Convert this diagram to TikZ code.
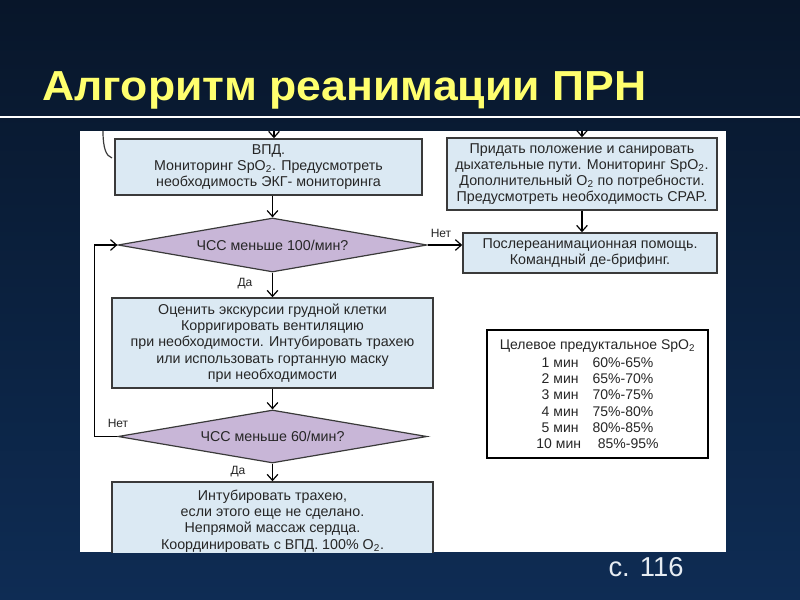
\documentclass[tikz,border=0pt]{standalone}
\usepackage{fontspec}
\setmainfont{Liberation Sans}
\newfontfamily\titlefont[FakeStretch=1.06]{Liberation Sans}
\usetikzlibrary{shapes.geometric,arrows.meta}

\definecolor{slidetop}{RGB}{8,22,42}
\definecolor{slidebottom}{RGB}{14,44,84}
\definecolor{titleyellow}{RGB}{255,255,110}
\definecolor{boxblue}{RGB}{219,233,243}
\definecolor{decisionlilac}{RGB}{200,182,215}
\definecolor{framegray}{RGB}{58,58,58}
\definecolor{inkgray}{RGB}{38,38,38}
\definecolor{pagenum}{RGB}{230,236,242}

\tikzset{every picture/.style={line width=0.75pt},
  actionbox/.style={draw=framegray, line width=1.1pt, fill=boxblue, text=inkgray, align=center, inner sep=0pt, font=\fontsize{10.7pt}{12.2pt}\selectfont},
  decision/.style={diamond, aspect=5.7, draw=framegray, line width=0.9pt, fill=decisionlilac, text=inkgray, inner sep=0pt, font=\fontsize{10.7pt}{12pt}\selectfont},
  flowarrow/.style={-{Straight Barb[length=4.5pt,width=8pt]}, line width=0.9pt, black},
  branchlabel/.style={text=inkgray, inner sep=0pt, font=\fontsize{9pt}{10pt}\selectfont}
}

\begin{document}
\begin{tikzpicture}[x=0.75pt,y=0.75pt,yscale=-1,xscale=1]
\useasboundingbox (0,0) rectangle (800,600);

%Slide background
\shade [top color=slidetop, bottom color=slidebottom] (0,0) rectangle (800,600);
%Straight Lines 
\draw [white, line width=1.2pt] (0,117) -- (800,117);
% Text Node
\node [anchor=base west, inner sep=0pt, text=titleyellow, font=\titlefont\fontsize{31.5pt}{36pt}\selectfont\bfseries] (title) at (42,100) {Алгоритм реанимации ПРН};
% Text Node
\node [anchor=base west, inner sep=0pt, text=pagenum, font=\fontsize{20.5pt}{24pt}\selectfont] (page) at (608,576) {с. 116};

%Shape: Rectangle 
\fill [white] (80,131) rectangle (726,552);

%Curve Lines 
\draw [framegray, line width=0.9pt] (103,131) .. controls (103,148) and (106,156) .. (112,158);

% Boxes
\node [actionbox, minimum width=230.25pt, minimum height=42pt] (vpd) at (268.5,167) {ВПД.\\Мониторинг SpO\textsubscript{2}. Предусмотреть\\необходимость ЭКГ- мониторинга};
\node [actionbox, minimum width=202.5pt, minimum height=54pt] (airway) at (582,174) {Придать положение и санировать\\дыхательные пути. Мониторинг SpO\textsubscript{2}.\\Дополнительный O\textsubscript{2} по потребности.\\Предусмотреть необходимость CPAP.};
\node [actionbox, minimum width=190.5pt, minimum height=30pt] (postcare) at (590,253) {Послереанимационная помощь.\\Командный де-брифинг.};
\node [decision, minimum width=231.75pt, minimum height=40.5pt] (hr100) at (272.5,245) {ЧСС меньше 100/мин?};
\node [actionbox, minimum width=240.75pt, minimum height=67.5pt] (assess) at (272.5,343) {Оценить экскурсии грудной клетки\\Корригировать вентиляцию\\при необходимости. Интубировать трахею\\или использовать гортанную маску\\при необходимости};
\node [decision, minimum width=231.75pt, minimum height=39.75pt] (hr60) at (272.5,436.5) {ЧСС меньше 60/мин?};
\begin{scope}
\clip (80,131) rectangle (726,552);
\node [actionbox, minimum width=240.75pt, minimum height=58.5pt] (compress) at (272.5,521) {Интубировать трахею,\\если этого еще не сделано.\\Непрямой массаж сердца.\\Координировать с ВПД. 100\% O\textsubscript{2}.};
\end{scope}

% Target SpO2 table
\node [draw=black, line width=1.5pt, fill=white, text=inkgray, align=center, inner sep=0pt, minimum width=165.75pt, minimum height=96pt, font=\fontsize{10.5pt}{12.2pt}\selectfont] (target) at (597.5,394) {Целевое предуктальное SpO\textsubscript{2}\\[1.5pt]
1 мин\hspace{1em}60\%-65\%\\
2 мин\hspace{1em}65\%-70\%\\
3 мин\hspace{1em}70\%-75\%\\
4 мин\hspace{1em}75\%-80\%\\
5 мин\hspace{1em}80\%-85\%\\
10 мин\hspace{1.2em}85\%-95\%};

% Connectors
\coordinate (inleft) at (274,131);
\coordinate (inright) at (582,131);
\draw [flowarrow] (inleft) -- (inleft |- vpd.north);
\draw [flowarrow] (inright) -- (inright |- airway.north);
\draw [flowarrow] (vpd.south -| hr100.north) -- (hr100.north);
\draw [flowarrow] (airway.south) -- (airway.south |- postcare.north);
\draw [flowarrow] (hr100.east) -- (hr100.east -| postcare.west);
\draw [flowarrow] (hr100.south) -- (assess.north);
\draw [flowarrow] (assess.south) -- (hr60.north);
\draw [flowarrow] (hr60.south) -- (compress.north);
\draw [flowarrow] (hr60.west) -- ++(-23,0) |- (hr100.west);

% Text Node
\node [branchlabel] (yes1) at (245,284) {Да};
% Text Node
\node [branchlabel] (no1) at (441,233) {Нет};
% Text Node
\node [branchlabel] (no2) at (118,423) {Нет};
% Text Node
\node [branchlabel] (yes2) at (238,472) {Да};

\end{tikzpicture}
\end{document}
